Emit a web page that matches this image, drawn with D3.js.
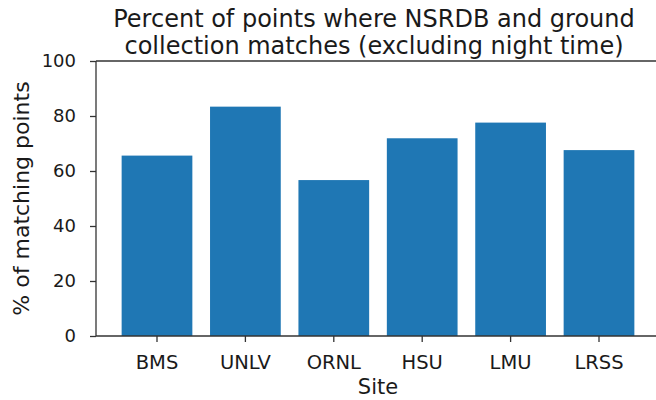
<!DOCTYPE html>
<html>
<head>
<meta charset="utf-8">
<script src="https://cdn.jsdelivr.net/npm/d3@7"></script>
<style>
  body { margin: 0; background: #fff; }
  svg text { font-family: "DejaVu Sans", sans-serif; fill: #1a1a1a; }
</style>
</head>
<body>
<svg id="chart" width="656" height="400"></svg>
<script>
// chart data
const sites = ["BMS", "UNLV", "ORNL", "HSU", "LMU", "LRSS"];
const matchPercent = [65.6, 83.4, 56.7, 71.9, 77.6, 67.6];
const yTicks = [0, 20, 40, 60, 80, 100];

const svg = d3.select("#chart");
const LEFT = 96, RIGHT = 660, TOP = 61, BOTTOM = 336;

const x = d3.scaleBand()
  .domain(sites)
  .range([LEFT, RIGHT])
  .paddingInner(0.2)
  .paddingOuter(0.29);

const y = d3.scaleLinear().domain([0, 100]).range([BOTTOM, TOP]);

// bars
svg.append("g")
  .selectAll("rect")
  .data(sites.map((s, i) => ({ site: s, value: matchPercent[i] })))
  .join("rect")
  .attr("x", d => x(d.site))
  .attr("y", d => y(d.value))
  .attr("width", x.bandwidth())
  .attr("height", d => y(0) - y(d.value))
  .style("fill", "#1f77b4");

// spines (top, left, bottom; right falls outside the picture)
const spine = svg.append("g").style("stroke", "#333").style("stroke-width", 1.3);
spine.append("line").attr("x1", LEFT).attr("x2", 656).attr("y1", TOP).attr("y2", TOP);
spine.append("line").attr("x1", LEFT).attr("x2", LEFT).attr("y1", TOP).attr("y2", BOTTOM);
spine.append("line").attr("x1", LEFT).attr("x2", 656).attr("y1", BOTTOM).attr("y2", BOTTOM);

// y axis
const yAxis = svg.append("g")
  .attr("transform", `translate(${LEFT},0)`)
  .call(d3.axisLeft(y).tickValues(yTicks).tickSize(6).tickPadding(14));
yAxis.select(".domain").remove();
yAxis.selectAll("line").style("stroke", "#333").style("stroke-width", 1.3);
yAxis.selectAll("text")
  .style("font-size", "18px")
  .style("font-family", "DejaVu Sans, sans-serif")
  .attr("fill", "#1a1a1a");

// x axis
const xAxis = svg.append("g")
  .attr("transform", `translate(0,${BOTTOM})`)
  .call(d3.axisBottom(x).tickSize(6).tickPadding(13));
xAxis.select(".domain").remove();
xAxis.selectAll("line").style("stroke", "#333").style("stroke-width", 1.3);
xAxis.selectAll("text")
  .style("font-size", "19.5px")
  .style("font-family", "DejaVu Sans, sans-serif")
  .attr("fill", "#1a1a1a");

// axis labels
svg.append("text")
  .attr("x", (LEFT + RIGHT) / 2)
  .attr("y", 394)
  .attr("text-anchor", "middle")
  .style("font-size", "21px")
  .text("Site");

svg.append("text")
  .attr("transform", `translate(29,${(TOP + BOTTOM) / 2}) rotate(-90)`)
  .attr("text-anchor", "middle")
  .style("font-size", "22px")
  .text("% of matching points");

// title
const title = svg.append("text")
  .attr("text-anchor", "middle")
  .style("font-size", "24px");
title.append("tspan").attr("x", (LEFT + RIGHT) / 2 - 4).attr("y", 27)
  .text("Percent of points where NSRDB and ground");
title.append("tspan").attr("x", (LEFT + RIGHT) / 2 - 4).attr("y", 54)
  .text("collection matches (excluding night time)");
</script>
</body>
</html>
